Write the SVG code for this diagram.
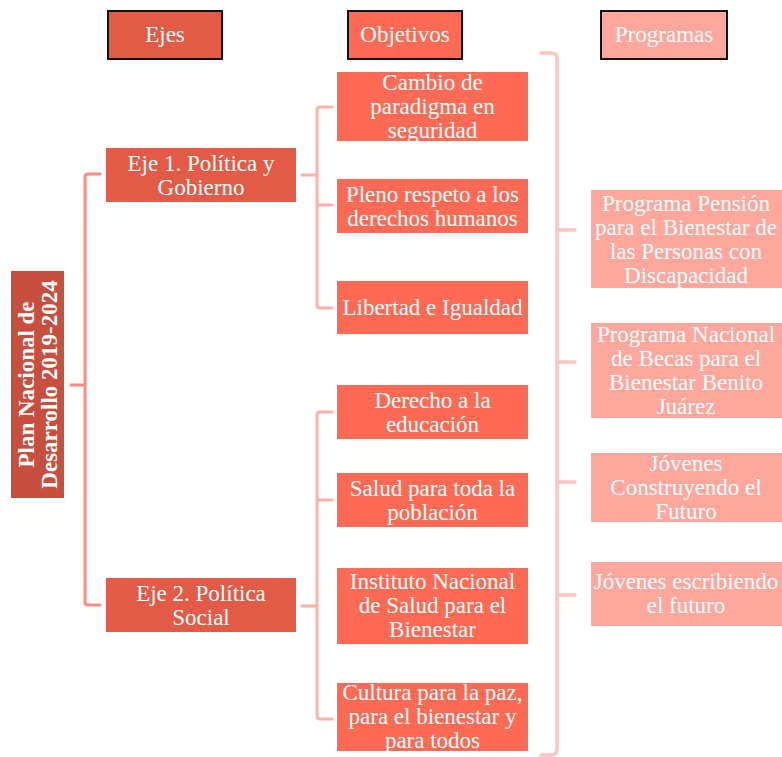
<svg xmlns="http://www.w3.org/2000/svg" width="782" height="757" viewBox="0 0 782 757">
<style>
text{font-family:"Liberation Serif","Times New Roman",serif;font-size:23px;fill:#fff;text-anchor:middle}
.hdr{stroke:#111;stroke-width:2}
.c1{fill:none;stroke:#FF8A7E;stroke-width:3;stroke-linejoin:round;stroke-linecap:round}
.c2{fill:none;stroke:#FFB0A7;stroke-width:3;stroke-linejoin:round;stroke-linecap:round}
.c3{fill:none;stroke:#FFC5BC;stroke-width:3.5;stroke-linejoin:round;stroke-linecap:round}
.eje{fill:#E35B46}
.obj{fill:#FF6A54}
.prog{fill:#FFA69D}
</style>
<rect width="782" height="757" fill="#fff"/>
<g id="connectors">
<path class="c1" d="M71,385 H85 M100,174 H88 Q85,174 85,177 V602 Q85,605 88,605 H100"/>
<path class="c2" d="M302,175 H316 M332,107 H320 Q317,107 317,110 V305 Q317,308 320,308 H332 M317,205 H332"/>
<path class="c2" d="M302,606 H316 M332,412 H320 Q317,412 317,415 V716 Q317,719 320,719 H332 M317,500 H332"/>
<path class="c3" d="M541,53 H551 Q557,53 557,59 V749 Q557,755 551,755 H541 M557,230 H575 M557,362 H575 M557,482 H575 M557,595 H575"/>
</g>
<g id="hdr-ejes"><rect class="hdr eje" x="108" y="11" width="114" height="48"/><text x="165" y="42">Ejes</text></g>
<g id="hdr-objetivos"><rect class="hdr obj" x="348" y="11" width="114" height="48"/><text x="405" y="42">Objetivos</text></g>
<g id="hdr-programas"><rect class="hdr prog" x="601" y="11" width="126" height="48"/><text x="664" y="42">Programas</text></g>
<g id="root"><rect x="11" y="271" width="53" height="227" fill="#C84E3D"/>
<text transform="translate(37.5,384.5) rotate(-90)" style="font-weight:bold"><tspan x="0" y="-3.5">Plan Nacional de</tspan><tspan x="0" y="19.5">Desarrollo 2019-2024</tspan></text></g>
<g id="eje1"><rect class="eje" x="106" y="148" width="190" height="54"/><text x="201" y="171">Eje 1. Política y</text><text x="201" y="195">Gobierno</text></g>
<g id="eje2"><rect class="eje" x="106" y="578" width="190" height="54"/><text x="201" y="601">Eje 2. Política</text><text x="201" y="625">Social</text></g>
<g id="obj1"><rect class="obj" x="337" y="72" width="191" height="69"/><text x="432.5" y="90">Cambio de</text><text x="432.5" y="114">paradigma en</text><text x="432.5" y="138">seguridad</text></g>
<g id="obj2"><rect class="obj" x="337" y="179" width="191" height="54"/><text x="432.5" y="202">Pleno respeto a los</text><text x="432.5" y="226">derechos humanos</text></g>
<g id="obj3"><rect class="obj" x="337" y="281" width="191" height="53"/><text x="432.5" y="315">Libertad e Igualdad</text></g>
<g id="obj4"><rect class="obj" x="337" y="385" width="191" height="54"/><text x="432.5" y="408">Derecho a la</text><text x="432.5" y="432">educación</text></g>
<g id="obj5"><rect class="obj" x="337" y="473" width="191" height="54"/><text x="432.5" y="496">Salud para toda la</text><text x="432.5" y="520">población</text></g>
<g id="obj6"><rect class="obj" x="337" y="568" width="191" height="76"/><text x="432.5" y="589">Instituto Nacional</text><text x="432.5" y="613">de Salud para el</text><text x="432.5" y="637">Bienestar</text></g>
<g id="obj7"><rect class="obj" x="337" y="683" width="191" height="68"/><text x="432.5" y="700">Cultura para la paz,</text><text x="432.5" y="724">para el bienestar y</text><text x="432.5" y="748">para todos</text></g>
<g id="prog1"><rect class="prog" x="591" y="190" width="191" height="98"/><text x="686" y="210.5">Programa Pensión</text><text x="686" y="234.5">para el Bienestar de</text><text x="686" y="258.5">las Personas con</text><text x="686" y="282.5">Discapacidad</text></g>
<g id="prog2"><rect class="prog" x="591" y="323" width="191" height="95"/><text x="686" y="342">Programa Nacional</text><text x="686" y="366">de Becas para el</text><text x="686" y="390">Bienestar Benito</text><text x="686" y="414">Juárez</text></g>
<g id="prog3"><rect class="prog" x="591" y="453" width="191" height="69"/><text x="686" y="471">Jóvenes</text><text x="686" y="495">Construyendo el</text><text x="686" y="519">Futuro</text></g>
<g id="prog4"><rect class="prog" x="591" y="562" width="191" height="64"/><text x="686" y="589">Jóvenes escribiendo</text><text x="686" y="613">el futuro</text></g>
</svg>
